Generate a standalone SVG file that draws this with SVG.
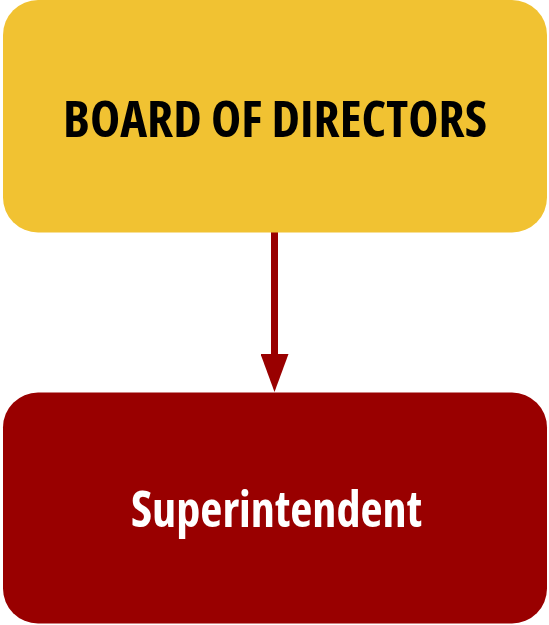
<svg xmlns="http://www.w3.org/2000/svg" width="549" height="625" viewBox="0 0 549 625">
<style>
.lbl{font-family:"Open Sans","Liberation Sans",sans-serif;font-weight:bold;font-stretch:condensed;font-size:50px;text-anchor:middle}
</style>
<defs>
<marker id="ah" markerUnits="userSpaceOnUse" markerWidth="38" markerHeight="28" refX="0" refY="14" orient="auto" viewBox="0 0 38 28">
<path d="M0,0 L38,14 L0,28 Z" fill="#990000"/>
</marker>
</defs>
<g id="connectors">
<line x1="274.5" y1="232" x2="274.5" y2="354" stroke="#990000" stroke-width="7" marker-end="url(#ah)"/>
</g>
<g id="board">
<rect x="3" y="0" width="544" height="232.5" rx="35" ry="35" fill="#F1C232"/>
<text class="lbl" x="275" y="137" fill="#000" textLength="424" lengthAdjust="spacingAndGlyphs">BOARD OF DIRECTORS</text>
</g>
<g id="superintendent">
<rect x="3" y="392.5" width="544" height="231" rx="35" ry="35" fill="#990000"/>
<text class="lbl" x="276.5" y="527" fill="#fff" textLength="291" lengthAdjust="spacingAndGlyphs">Superintendent</text>
</g>
</svg>
